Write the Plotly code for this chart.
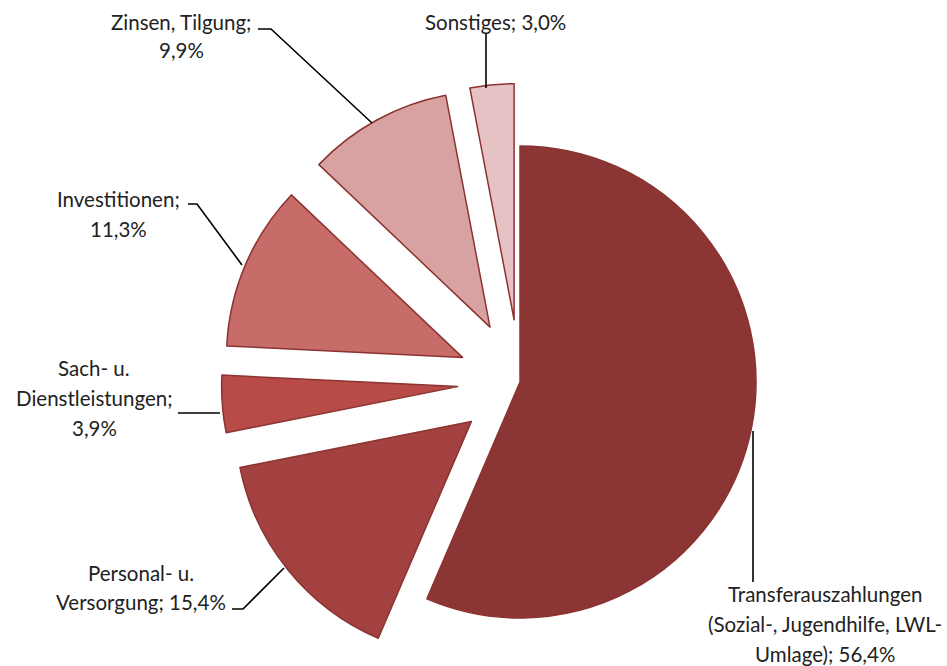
import math

import plotly.graph_objects as go


# data
categories = [
    "Transferauszahlungen (Sozial-, Jugendhilfe, LWL-Umlage)",
    "Personal- u. Versorgung",
    "Sach- u. Dienstleistungen",
    "Investitionen",
    "Zinsen, Tilgung",
    "Sonstiges",
]
values = [56.4, 15.4, 3.9, 11.3, 9.9, 3.0]
exploded = [False, True, True, True, True, True]
label_lines = [
    ["Transferauszahlungen", "(Sozial-, Jugendhilfe, LWL-", "Umlage); 56,4%"],
    ["Personal- u.", "Versorgung; 15,4%"],
    ["Sach- u.", "Dienstleistungen;", "3,9%"],
    ["Investitionen;", "11,3%"],
    ["Zinsen, Tilgung;", "9,9%"],
    ["Sonstiges; 3,0%"],
]

colors = ["#8B3634", "#A34140", "#B84A47", "#C76C69", "#D8A2A2", "#E6C2C4"]
EDGE = "#8B3331"
W, H = 947, 666
CX, CY, R = 520, 382, 236   # pie centre / radius in px
PULL = 0.265                # explode distance as fraction of radius

# label anchor (centre x, first line y, line step) and leader line path in px
label_pos = [(825, 594, 30), (141, 573, 29), (94, 368, 30),
             (118, 199, 30), (181, 22, 28), (495, 22, 28)]
leaders = [
    [(753, 431), (753, 582)],
    [(232, 609), (243, 609), (284, 568)],
    [(178, 413), (220, 413)],
    [(188, 204), (197, 204), (242, 265)],
    [(258, 29), (271, 29), (372, 123)],
    [(486, 33), (486, 88)],
]


def px(x, y):
    return x / W, 1 - y / H


fig = go.Figure()

total = sum(values)
cum = 0
for i, v in enumerate(values):
    mid = (cum + v / 2) / total * 2 * math.pi
    cum += v
    d = PULL * R if exploded[i] else 0
    cx = CX + d * math.sin(mid)
    cy = CY - d * math.cos(mid)

    fill = ["rgba(0,0,0,0)"] * len(values)
    fill[i] = colors[i]
    widths = [0] * len(values)
    widths[i] = 1.5
    fig.add_trace(go.Pie(
        labels=categories, values=values, sort=False,
        direction="clockwise", rotation=0,
        marker=dict(colors=fill, line=dict(color=EDGE, width=widths)),
        textinfo="none", hoverinfo="label+percent", showlegend=False,
        domain=dict(x=[(cx - R) / W, (cx + R) / W],
                    y=[1 - (cy + R) / H, 1 - (cy - R) / H]),
    ))

for lines, (lx, ly, step) in zip(label_lines, label_pos):
    for k, t in enumerate(lines):
        x, y = px(lx, ly + k * step)
        fig.add_annotation(x=x, y=y, xref="paper", yref="paper", text=t,
                           showarrow=False, xanchor="center", yanchor="middle",
                           font=dict(family="Lato", size=20.5, color="#222222"))

for pts in leaders:
    path = ""
    for j, (x, y) in enumerate(pts):
        X, Y = px(x, y)
        path += ("M" if j == 0 else "L") + f"{X},{Y} "
    fig.add_shape(type="path", path=path.strip(), xref="paper", yref="paper",
                  line=dict(color="#000000", width=1.6))

fig.update_layout(
    width=W, height=H,
    margin=dict(l=0, r=0, t=0, b=0),
    paper_bgcolor="white", plot_bgcolor="white",
)

# drop the default 8px body margin so the figure fills the window
fig.write_html("out.html", config={"displayModeBar": False},
               post_script="document.body.style.margin='0';")
